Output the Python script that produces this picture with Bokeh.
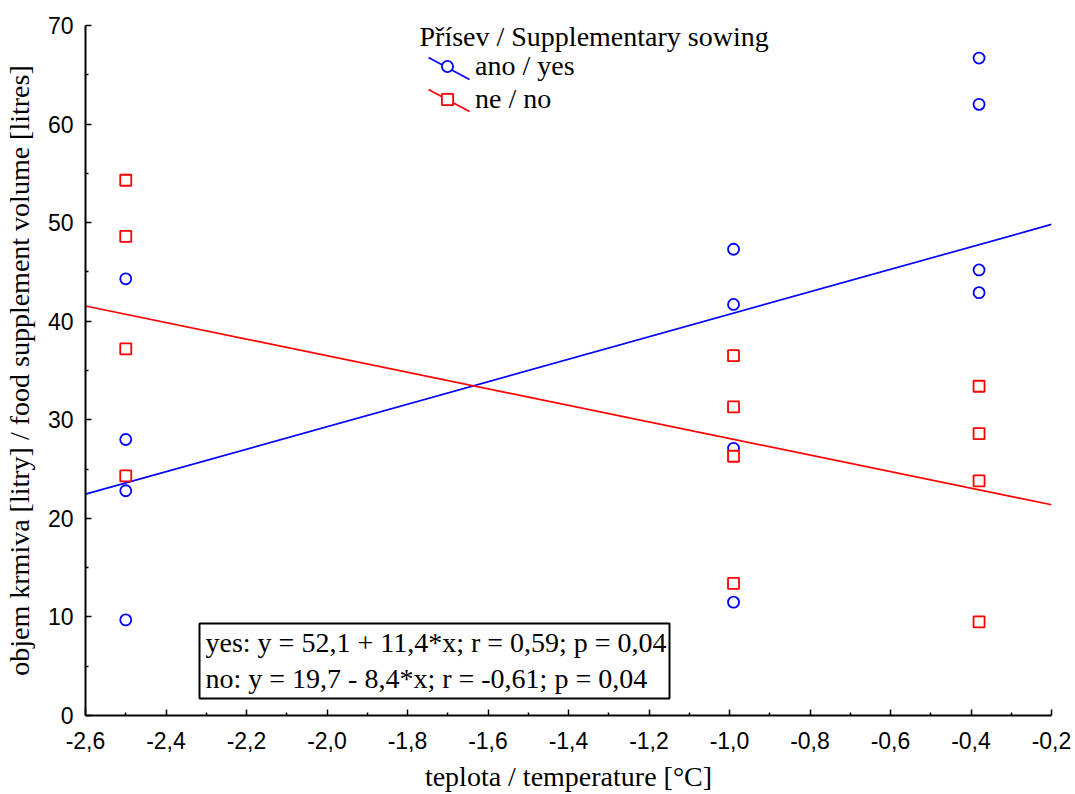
from bokeh.plotting import figure
from bokeh.models import (Range1d, FixedTicker, CustomJSTickFormatter, Legend, LegendItem,
                          Arrow, BoxAnnotation, Label)
from bokeh.embed import file_html
from bokeh.resources import INLINE

# ---- data ----
x_yes = [-2.5, -2.5, -2.5, -2.5, -0.99, -0.99, -0.99, -0.99, -0.38, -0.38, -0.38, -0.38]
y_yes = [44.3, 28.0, 22.8, 9.7, 47.3, 41.7, 27.1, 11.5, 66.7, 62.0, 45.2, 42.9]
x_no = [-2.5, -2.5, -2.5, -2.5, -0.99, -0.99, -0.99, -0.99, -0.38, -0.38, -0.38, -0.38]
y_no = [54.3, 48.6, 37.2, 24.3, 36.5, 31.3, 26.3, 13.4, 33.4, 28.6, 23.8, 9.5]
fit_yes = (52.1, 11.4)   # intercept, slope
fit_no = (19.7, -8.4)
fit_x = [-2.6, -0.2]
x_ticks = [-2.6, -2.4, -2.2, -2.0, -1.8, -1.6, -1.4, -1.2, -1.0, -0.8, -0.6, -0.4, -0.2]
x_minor = [-2.5, -2.3, -2.1, -1.9, -1.7, -1.5, -1.3, -1.1, -0.9, -0.7, -0.5, -0.3]
y_ticks = [0, 10, 20, 30, 40, 50, 60, 70]
y_minor = [5, 15, 25, 35, 45, 55, 65]
legend_title = "Přísev / Supplementary sowing"
legend_labels = ["ano / yes", "ne / no"]
stats_lines = ["yes: y = 52,1 + 11,4*x; r = 0,59; p = 0,04",
               "no: y = 19,7 - 8,4*x; r = -0,61; p = 0,04"]
x_label = "teplota / temperature [°C]"
y_label = "objem krmiva [litry] / food supplement volume [litres]"

BLUE = "#0000ff"
RED = "#ff0000"
SERIF = "Liberation Serif"
SANS = "Liberation Sans"

p = figure(width=1075, height=794, frame_width=966, frame_height=690,
           x_range=Range1d(-2.6, -0.2), y_range=Range1d(0, 70),
           output_backend="svg", toolbar_location=None)
p.min_border_left = 84
p.min_border_right = 25
p.min_border_top = 25
p.min_border_bottom = 79
p.outline_line_color = None
p.xgrid.visible = False
p.ygrid.visible = False
p.background_fill_color = "white"
p.border_fill_color = "white"

for ax in (p.xaxis[0], p.yaxis[0]):
    ax.axis_line_color = "black"
    ax.axis_line_width = 2
    ax.major_tick_line_color = "black"
    ax.major_tick_line_width = 1.5
    ax.minor_tick_line_color = "black"
    ax.minor_tick_line_width = 1.5
    ax.major_tick_in = 6
    ax.major_tick_out = 0
    ax.minor_tick_in = 3
    ax.minor_tick_out = 0
    ax.major_label_text_font = SANS
    ax.major_label_text_font_size = "23px"
    ax.major_label_text_color = "black"
    ax.axis_label_text_font = SERIF
    ax.axis_label_text_font_size = "28px"
    ax.axis_label_text_font_style = "normal"
    ax.axis_label_text_color = "black"

p.xaxis[0].ticker = FixedTicker(ticks=x_ticks, minor_ticks=x_minor)
p.yaxis[0].ticker = FixedTicker(ticks=y_ticks, minor_ticks=y_minor)
p.xaxis[0].formatter = CustomJSTickFormatter(code="return tick.toFixed(1).replace('.', ',');")
p.yaxis[0].formatter = CustomJSTickFormatter(code="return tick.toFixed(0);")
p.xaxis[0].major_label_standoff = 16
p.xaxis[0].axis_label_standoff = 9
p.yaxis[0].major_label_standoff = 12
p.yaxis[0].axis_label_standoff = 10
p.xaxis[0].axis_label = x_label
p.yaxis[0].axis_label = y_label

# regression lines
fy = [fit_yes[0] + fit_yes[1] * v for v in fit_x]
fn = [fit_no[0] + fit_no[1] * v for v in fit_x]
p.line(fit_x, fy, line_color=BLUE, line_width=1.7)
p.line(fit_x, fn, line_color=RED, line_width=1.7)

r_yes = p.scatter(x_yes, y_yes, marker="circle", size=11, line_color=BLUE,
                  line_width=1.8, fill_color="white")
r_no = p.scatter(x_no, y_no, marker="square", size=11, line_color=RED,
                 line_width=1.8, fill_color="white")

# legend diagonal strokes (screen units, relative to frame)
p.add_layout(Arrow(x_start=343, y_start=658, x_end=384, y_end=636,
                   start_units="screen", end_units="screen", end=None,
                   line_color=BLUE, line_width=1.7))
p.add_layout(Arrow(x_start=343, y_start=626, x_end=384, y_end=604,
                   start_units="screen", end_units="screen", end=None,
                   line_color=RED, line_width=1.7))

p.add_layout(Label(x=334, y=679, x_units="screen", y_units="screen",
                   text=legend_title, text_font=SERIF, text_font_size="28px",
                   text_baseline="middle", text_color="black"))

legend = Legend(items=[LegendItem(label=legend_labels[0], renderers=[r_yes]),
                       LegendItem(label=legend_labels[1], renderers=[r_no])],
                location=(334, 600),
                label_text_font=SERIF, label_text_font_size="28px",
                label_text_color="black",
                glyph_width=56, glyph_height=28, label_standoff=0,
                label_height=20, spacing=1, padding=0, margin=0,
                border_line_color=None, background_fill_alpha=0)
p.add_layout(legend, "center")

# statistics box
p.add_layout(BoxAnnotation(left=114, right=584, bottom=17, top=92,
                           left_units="screen", right_units="screen",
                           bottom_units="screen", top_units="screen",
                           fill_color="white", fill_alpha=1.0,
                           line_color="black", line_alpha=1.0, line_width=2))
p.add_layout(Label(x=120, y=73, x_units="screen", y_units="screen",
                   text=stats_lines[0], text_font=SERIF, text_font_size="28px",
                   text_baseline="middle", text_color="black"))
p.add_layout(Label(x=120, y=37, x_units="screen", y_units="screen",
                   text=stats_lines[1], text_font=SERIF, text_font_size="28px",
                   text_baseline="middle", text_color="black"))

open("out.html", "w").write(file_html(p, INLINE))
